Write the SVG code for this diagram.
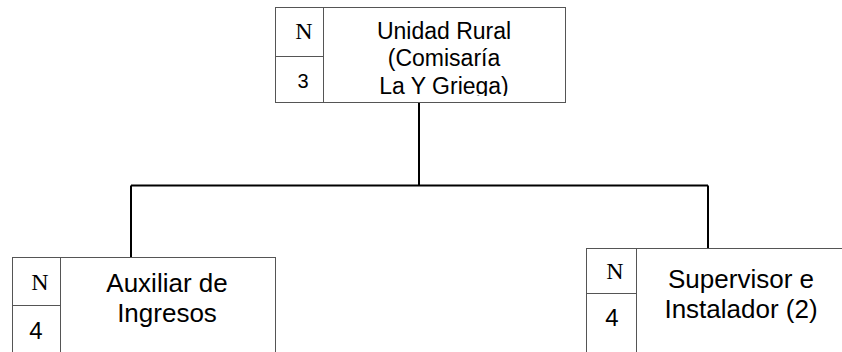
<svg xmlns="http://www.w3.org/2000/svg" width="842" height="352" viewBox="0 0 842 352">
<style>
.box{fill:#fff;stroke:#555;stroke-width:1}
.cell{fill:none;stroke:#555;stroke-width:1}
.conn{fill:none;stroke:#000;stroke-width:2}
.n{font-family:"Liberation Serif",serif;font-size:24px;fill:#000;text-anchor:middle}
.num{font-family:"Liberation Sans",Arial,sans-serif;fill:#000;text-anchor:middle}
.lbl{font-family:"Liberation Sans",Arial,sans-serif;fill:#000;text-anchor:middle}
</style>
<defs>
<clipPath id="clipTop"><rect x="324" y="8" width="240" height="88"/></clipPath>
</defs>
<rect x="0" y="0" width="842" height="352" fill="#fff"/>
<g id="connectors">
<path class="conn" d="M419,102 V186"/>
<path class="conn" d="M131,185.5 H708"/>
<path class="conn" d="M131,185.5 V257"/>
<path class="conn" d="M708,185.5 V248"/>
</g>
<g id="node-unidad-rural">
<rect class="box" x="275.5" y="7.5" width="290" height="95"/>
<path class="cell" d="M323.5,7.5 V102.5 M275.5,56.5 H323.5"/>
<text class="n" x="304" y="39">N</text>
<text class="num" x="303" y="88" font-size="20">3</text>
<g clip-path="url(#clipTop)">
<text class="lbl" x="444" y="39" font-size="23">Unidad Rural</text>
<text class="lbl" x="444" y="66" font-size="23">(Comisaría</text>
<text class="lbl" x="444" y="94" font-size="23">La Y Griega)</text>
</g>
</g>
<g id="node-auxiliar">
<rect class="box" x="12.5" y="257.5" width="263" height="110"/>
<path class="cell" d="M60.5,257.5 V352 M12.5,305.5 H60.5"/>
<text class="n" x="40" y="290">N</text>
<text class="num" x="36" y="339" font-size="24">4</text>
<text class="lbl" x="167" y="292" font-size="26">Auxiliar de</text>
<text class="lbl" x="167" y="322" font-size="26">Ingresos</text>
</g>
<g id="node-supervisor">
<rect class="box" x="586.5" y="248.5" width="262" height="120"/>
<path class="cell" d="M636.5,248.5 V352 M586.5,293.5 H636.5"/>
<text class="n" x="615" y="279">N</text>
<text class="num" x="612" y="326" font-size="24">4</text>
<text class="lbl" x="741" y="288" font-size="26">Supervisor e</text>
<text class="lbl" x="741" y="318" font-size="26">Instalador (2)</text>
</g>
</svg>
